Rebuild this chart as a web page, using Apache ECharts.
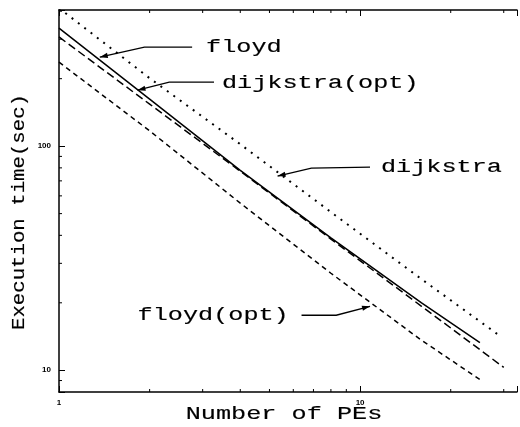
<!DOCTYPE html>
<html><head><meta charset="utf-8">
<script src="https://cdn.jsdelivr.net/npm/echarts@6/dist/echarts.min.js"></script>
<style>html,body{margin:0;padding:0;background:#fff}#c{width:520px;height:427px}</style>
</head><body><div id="c"></div>
<script>
// ---- data ----
const floydPEs       = [1, 2, 4, 8, 16, 25];
const floydTimes     = [336, 162, 78, 39, 20, 13.3];
const floydOptPEs    = [1, 2, 4, 8, 16, 25];
const floydOptTimes  = [237, 117, 55.7, 27.1, 13.6, 9.1];
const dijkOptPEs     = [1, 2, 4, 8, 16, 30];
const dijkOptTimes   = [307, 154, 77.3, 38.5, 19.3, 10.3];
const dijkPEs        = [1, 2, 4, 8, 16, 29];
const dijkTimes      = [413, 201, 102, 50.8, 25.5, 14.3];
const xTickLabels    = [1, 10];
const yTickLabels    = [10, 100];
const xMinorTicks    = [2, 3, 4, 5, 6, 7, 8, 9, 20, 30];
const yMinorTicks    = [9, 20, 30, 40, 50, 60, 70, 80, 90, 200, 300, 400];
const seriesNames    = ['floyd', 'dijkstra(opt)', 'dijkstra', 'floyd(opt)'];

// ---- axis ranges ----
const X_MIN = 1, X_MAX = 33.2, Y_MIN = 8, Y_MAX = 405;

// ---- annotation anchors in data space ----
const notes = [
  {label: 'floyd',         text: [3.08, 276.8],  path: [[2.768, 276.8], [1.922, 276.8], [1.366, 249.5]]},
  {label: 'dijkstra(opt)', text: [3.477, 191],   path: [[3.273, 193.1], [2.324, 193.1], [1.823, 177.8]]},
  {label: 'dijkstra',      text: [11.73, 80.6],  path: [[10.79, 80.6], [6.89, 79.8], [5.32, 73.5]]},
  {label: 'floyd(opt)',    text: [1.823, 17.6],  path: [[6.39, 17.6], [8.33, 17.6], [10.79, 19.3]]}
];

const pairs = (xs, ys) => xs.map((x, i) => [x, ys[i]]);
const isLabelled = (v, list) => list.some(t => Math.abs(v - t) / t < 1e-6);
const FONT_MONO = '"Liberation Mono", "DejaVu Sans Mono", monospace';
const TEXT_SCALE = 1.4;

const axisCommon = {
  type: 'log', logBase: 10,
  axisLine: {show: true, onZero: false, lineStyle: {color: '#000', width: 1.5}},
  axisTick: {show: true, inside: true, length: 6, lineStyle: {color: '#000', width: 1}},
  splitLine: {show: false},
  minorTick: {show: false}
};

const lineBase = {type: 'line', showSymbol: false, symbol: 'none', silent: true, clip: true, animation: false};

const option = {
  animation: false,
  backgroundColor: '#fff',
  grid: {left: 59, right: 0, top: 10, bottom: 35, containLabel: false},
  xAxis: [
    Object.assign({}, axisCommon, {
      min: X_MIN, max: X_MAX, position: 'bottom',
      axisLabel: {show: true, margin: 7, color: '#000', fontSize: 8, fontWeight: 'bold',
                  fontFamily: '"Liberation Sans", Arial, sans-serif',
                  formatter: v => isLabelled(v, xTickLabels) ? String(Math.round(v)) : ''}
    }),
    Object.assign({}, axisCommon, {
      min: X_MIN, max: X_MAX, position: 'top',
      axisLabel: {show: false}
    })
  ],
  yAxis: [
    Object.assign({}, axisCommon, {
      min: Y_MIN, max: Y_MAX, position: 'left',
      axisLabel: {show: true, margin: 8, color: '#000', fontSize: 8, fontWeight: 'bold',
                  fontFamily: '"Liberation Sans", Arial, sans-serif',
                  formatter: v => isLabelled(v, yTickLabels) ? String(Math.round(v)) : ''}
    })
  ],
  series: [
    Object.assign({}, lineBase, {name: seriesNames[0], data: pairs(floydPEs, floydTimes),
      lineStyle: {color: '#000', width: 1.5, type: 'solid'}}),
    Object.assign({}, lineBase, {name: seriesNames[1], data: pairs(dijkOptPEs, dijkOptTimes),
      lineStyle: {color: '#000', width: 1.5, type: [8, 4]}}),
    Object.assign({}, lineBase, {name: seriesNames[2], data: pairs(dijkPEs, dijkTimes),
      lineStyle: {color: '#000', width: 2, type: [2, 6]}}),
    Object.assign({}, lineBase, {name: seriesNames[3], data: pairs(floydOptPEs, floydOptTimes),
      lineStyle: {color: '#000', width: 1.5, type: [5, 4]}})
  ]
};

const chart = echarts.init(document.getElementById('c'), null, {renderer: 'canvas'});
chart.setOption(option);

const toPx = v => chart.convertToPixel({gridIndex: 0}, v);
const graphics = [];

// minor ticks (positions from the log axes)
const tick = (p, dx, dy) => graphics.push({type: 'line', silent: true, z: 10,
  shape: {x1: p[0], y1: p[1], x2: p[0] + dx, y2: p[1] + dy}, style: {stroke: '#000', lineWidth: 1}});
xMinorTicks.forEach(v => { tick(toPx([v, Y_MIN]), 0, -3); tick(toPx([v, Y_MAX]), 0, 3); });
yMinorTicks.forEach(v => { tick(toPx([X_MIN, v]), 3, 0); });

const textStyle = (text, align) => ({text: text, font: '18px ' + FONT_MONO, fill: '#000',
  stroke: '#000', lineWidth: 0.15,
  textAlign: align, align: align, textVerticalAlign: 'middle', verticalAlign: 'middle'});

notes.forEach(n => {
  const pts = n.path.map(toPx);
  graphics.push({type: 'polyline', silent: true, z: 10,
    shape: {points: pts}, style: {stroke: '#000', lineWidth: 1.3, fill: null}});
  const tip = pts[pts.length - 1], prev = pts[pts.length - 2];
  const ang = Math.atan2(tip[1] - prev[1], tip[0] - prev[0]);
  const L = 8, W = 2.6;
  const bx = tip[0] - L * Math.cos(ang), by = tip[1] - L * Math.sin(ang);
  graphics.push({type: 'polygon', silent: true, z: 10,
    shape: {points: [tip,
      [bx + W * Math.sin(ang), by - W * Math.cos(ang)],
      [bx - W * Math.sin(ang), by + W * Math.cos(ang)]]},
    style: {fill: '#000'}});
  const tp = toPx(n.text);
  graphics.push({type: 'text', silent: true, z: 10, x: tp[0], y: tp[1], scaleX: TEXT_SCALE,
    style: textStyle(n.label, 'left')});
});
// axis titles
graphics.push({type: 'text', silent: true, x: 284, y: 414, scaleX: TEXT_SCALE,
  style: textStyle('Number of PEs', 'center')});
graphics.push({type: 'text', silent: true, x: 19, y: 212, rotation: Math.PI / 2, scaleX: 1.15,
  style: textStyle('Execution time(sec)', 'center')});
chart.setOption({graphic: {elements: graphics}});
</script>
</body></html>
